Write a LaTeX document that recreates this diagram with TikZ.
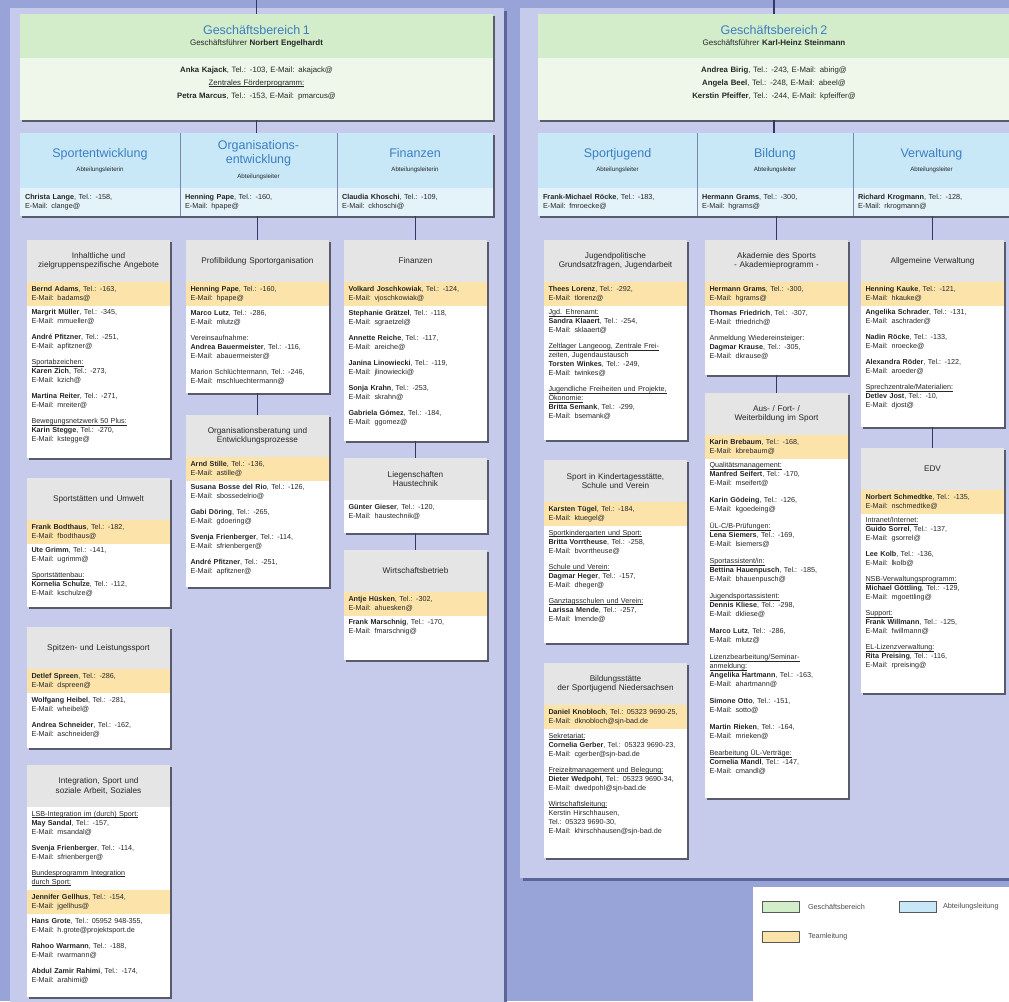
\documentclass[tikz,border=0pt]{standalone}
\usepackage{fontspec}
\setmainfont{Liberation Sans}
\usetikzlibrary{positioning,shadows}

\definecolor{bgout}{HTML}{98A4D8}
\definecolor{panelfill}{HTML}{C6CBEC}
\definecolor{paneledge}{HTML}{5C6696}
\definecolor{gbgreen}{HTML}{D3EDCB}
\definecolor{gblight}{HTML}{EEF7EA}
\definecolor{deptblue}{HTML}{C8E8F7}
\definecolor{deptlight}{HTML}{E4F3FA}
\definecolor{hdgray}{HTML}{E5E5E5}
\definecolor{tlyellow}{HTML}{FCE3AA}
\definecolor{titleblue}{HTML}{3C7EC2}
\definecolor{linenavy}{HTML}{313A66}
\definecolor{txtgray}{HTML}{262626}

\newsavebox{\untbox}
\newcommand{\nm}[1]{\textbf{#1}}
\newcommand{\unt}[1]{\leavevmode\sbox{\untbox}{#1}\rlap{\rule[-1.2pt]{\wd\untbox}{0.4pt}}\usebox{\untbox}}
\newcommand{\bodyfont}{\fontsize{7.2}{9}\selectfont}
\newcommand{\gbtitle}{\fontsize{12.5}{14}\selectfont\color{titleblue}}
\newcommand{\dtitle}{\fontsize{12.5}{14}\selectfont\color{titleblue}}

\begin{document}
\begin{tikzpicture}[
    x=1pt, y=-1pt,
    every node/.style={inner sep=0pt, outer sep=0pt, text=txtgray},
    panel/.style={fill=panelfill, anchor=north west,
        drop shadow={shadow xshift=3pt, shadow yshift=-3pt, fill=paneledge, opacity=1}},
    shade box/.style={drop shadow={shadow xshift=2pt, shadow yshift=-2pt, fill=black, opacity=.55}},
    gbframe/.style={fill=gblight, anchor=north west, shade box},
    gbhead/.style={fill=gbgreen, anchor=north, minimum height=44pt, align=center,
        inner xsep=5pt, font=\fontsize{8}{9}\selectfont},
    gbbody/.style={anchor=north, align=center, inner ysep=9pt, font=\fontsize{7.8}{13}\selectfont},
    rowframe/.style={fill=deptlight, anchor=north west, shade box},
    dhead/.style={fill=deptblue, text width=#1, inner xsep=5pt, minimum height=55pt,
        align=center, anchor=north, font=\fontsize{6.2}{14}\selectfont},
    dperson/.style={fill=deptlight, text width=#1, inner xsep=5pt, minimum height=28pt,
        align=left, font=\fontsize{7.3}{8.5}\selectfont},
    sepline/.style={draw=paneledge!80, line width=0.6pt},
    orgbox/.style={fill=white, anchor=north west, minimum width=143pt, shade box},
    hdr/.style={fill=hdgray, text width=134pt, inner xsep=4.5pt, minimum height=42pt,
        align=center, anchor=north, font=\fontsize{8.2}{9.5}\selectfont},
    lead/.style={fill=tlyellow, text width=134pt, inner xsep=4.5pt, inner ysep=4.2pt,
        align=left, anchor=north, font=\bodyfont},
    body/.style={text width=134pt, inner xsep=4.5pt, inner ysep=4pt,
        align=left, anchor=north, font=\bodyfont},
    conn/.style={draw=linenavy, line width=1.2pt},
    swatch/.style={anchor=north west, minimum width=37pt, minimum height=11pt,
        draw=gray!70!black, line width=0.6pt},
    leglabel/.style={font=\fontsize{7.3}{8}\selectfont, text=gray!60!black}]

    \useasboundingbox (0,0) rectangle (1009,1001);
    \fill[bgout] (0,0) rectangle (1009,1001);

    % PANELS
    \node[panel, minimum width=494pt, minimum height=1010pt] (pl) at (10,8) {};
    \node[panel, minimum width=500pt, minimum height=870pt] (pr) at (520,8) {};

    % GESCHAEFTSBEREICH 1
    \node[gbframe, minimum width=473pt, minimum height=106pt] (gb1) at (20,14) {};
    \node[gbhead, text width=463pt] (gb1h) at (gb1.north)
        {{\gbtitle Geschäftsbereich 1}\\[2pt]Geschäftsführer \nm{Norbert Engelhardt}};
    \node[gbbody, text width=463pt, below=0pt of gb1h] (gb1b)
        {\nm{Anka Kajack}, Tel.: -103, E-Mail: akajack@\\
         \unt{Zentrales Förderprogramm:}\\
         \nm{Petra Marcus}, Tel.: -153, E-Mail: pmarcus@};

    % GESCHAEFTSBEREICH 2
    \node[gbframe, minimum width=472pt, minimum height=106pt] (gb2) at (538,14) {};
    \node[gbhead, text width=462pt] (gb2h) at (gb2.north)
        {{\gbtitle Geschäftsbereich 2}\\[2pt]Geschäftsführer \nm{Karl-Heinz Steinmann}};
    \node[gbbody, text width=462pt, below=0pt of gb2h] (gb2b)
        {\nm{Andrea Birig}, Tel.: -243, E-Mail: abirig@\\
         \nm{Angela Beel}, Tel.: -248, E-Mail: abeel@\\
         \nm{Kerstin Pfeiffer}, Tel.: -244, E-Mail: kpfeiffer@};

    % ABTEILUNGEN links
    \node[rowframe, minimum width=473pt, minimum height=83pt] (rowl) at (20,133) {};
    \node[dhead=150pt, anchor=north west] (se) at (rowl.north west)
        {{\dtitle Sportentwicklung}\\[0pt]Abteilungsleiterin};
    \node[dhead=147pt, right=0pt of se] (oe)
        {{\dtitle Organisations-\\entwicklung}\\[1pt]Abteilungsleiter};
    \node[dhead=146pt, right=0pt of oe] (fi)
        {{\dtitle Finanzen}\\[0pt]Abteilungsleiterin};
    \node[dperson=150pt, below=0pt of se] (sep) {\nm{Christa Lange}, Tel.: -158,\\E-Mail: clange@};
    \node[dperson=147pt, below=0pt of oe] (oep) {\nm{Henning Pape}, Tel.: -160,\\E-Mail: hpape@};
    \node[dperson=146pt, below=0pt of fi] (fip) {\nm{Claudia Khoschi}, Tel.: -109,\\E-Mail: ckhoschi@};
    \draw[sepline] (se.north east) -- (sep.south east);
    \draw[sepline] (oe.north east) -- (oep.south east);

    % ABTEILUNGEN rechts
    \node[rowframe, minimum width=472pt, minimum height=83pt] (rowr) at (538,133) {};
    \node[dhead=149pt, anchor=north west] (sj) at (rowr.north west)
        {{\dtitle Sportjugend}\\[0pt]Abteilungsleiter};
    \node[dhead=146pt, right=0pt of sj] (bi)
        {{\dtitle Bildung}\\[0pt]Abteilungsleiter};
    \node[dhead=147pt, right=0pt of bi] (vw)
        {{\dtitle Verwaltung}\\[0pt]Abteilungsleiter};
    \node[dperson=149pt, below=0pt of sj] (sjp) {\nm{Frank-Michael Röcke}, Tel.: -183,\\E-Mail: fmroecke@};
    \node[dperson=146pt, below=0pt of bi] (bip) {\nm{Hermann Grams}, Tel.: -300,\\E-Mail: hgrams@};
    \node[dperson=147pt, below=0pt of vw] (vwp) {\nm{Richard Krogmann}, Tel.: -128,\\E-Mail: rkrogmann@};
    \draw[sepline] (sj.north east) -- (sjp.south east);
    \draw[sepline] (bi.north east) -- (bip.south east);

    % SPORTENTWICKLUNG
    \node[orgbox, minimum height=218pt] (a1) at (27,240) {};
    \node[hdr] (a1h) at (a1.north) {Inhaltliche und\\zielgruppenspezifische Angebote};
    \node[lead, below=0pt of a1h] (a1l) {\nm{Bernd Adams}, Tel.: -163,\\E-Mail: badams@};
    \node[body, below=0pt of a1l] (a1b)
        {\nm{Margrit Müller}, Tel.: -345,\\E-Mail: mmueller@\\[7pt]
         \nm{André Pfitzner}, Tel.: -251,\\E-Mail: apfitzner@\\[7pt]
         \unt{Sportabzeichen:}\\\nm{Karen Zich}, Tel.: -273,\\E-Mail: kzich@\\[7pt]
         \nm{Martina Reiter}, Tel.: -271,\\E-Mail: mreiter@\\[7pt]
         \unt{Bewegungsnetzwerk 50 Plus:}\\\nm{Karin Stegge}, Tel.: -270,\\E-Mail: kstegge@};

    \node[orgbox, minimum height=129pt] (a2) at (27,478) {};
    \node[hdr] (a2h) at (a2.north) {Sportstätten und Umwelt};
    \node[lead, below=0pt of a2h] (a2l) {\nm{Frank Bodthaus}, Tel.: -182,\\E-Mail: fbodthaus@};
    \node[body, below=0pt of a2l] (a2b)
        {\nm{Ute Grimm}, Tel.: -141,\\E-Mail: ugrimm@\\[7pt]
         \unt{Sportstättenbau:}\\\nm{Kornelia Schulze}, Tel.: -112,\\E-Mail: kschulze@};

    \node[orgbox, minimum height=121pt] (a3) at (27,627) {};
    \node[hdr] (a3h) at (a3.north) {Spitzen- und Leistungssport};
    \node[lead, below=0pt of a3h] (a3l) {\nm{Detlef Spreen}, Tel.: -286,\\E-Mail: dspreen@};
    \node[body, below=0pt of a3l] (a3b)
        {\nm{Wolfgang Heibel}, Tel.: -281,\\E-Mail: wheibel@\\[7pt]
         \nm{Andrea Schneider}, Tel.: -162,\\E-Mail: aschneider@};

    \node[orgbox, minimum height=232pt] (a4) at (27,765) {};
    \node[hdr] (a4h) at (a4.north) {Integration, Sport und\\soziale Arbeit, Soziales};
    \node[body, below=0pt of a4h] (a4b)
        {\unt{LSB-Integration im (durch) Sport:}\\\nm{May Sandal}, Tel.: -157,\\E-Mail: msandal@\\[7pt]
         \nm{Svenja Frienberger}, Tel.: -114,\\E-Mail: sfrienberger@\\[7pt]
         \unt{Bundesprogramm Integration}\\\unt{durch Sport:}};
    \node[lead, below=0pt of a4b] (a4l) {\nm{Jennifer Gellhus}, Tel.: -154,\\E-Mail: jgellhus@};
    \node[body, below=0pt of a4l] (a4c)
        {\nm{Hans Grote}, Tel.: 05952 948-355,\\E-Mail: h.grote@projektsport.de\\[7pt]
         \nm{Rahoo Warmann}, Tel.: -188,\\E-Mail: rwarmann@\\[7pt]
         \nm{Abdul Zamir Rahimi}, Tel.: -174,\\E-Mail: arahimi@};

    % ORGANISATIONSENTWICKLUNG
    \node[orgbox, minimum height=153pt] (b1) at (186,240) {};
    \node[hdr] (b1h) at (b1.north) {Profilbildung Sportorganisation};
    \node[lead, below=0pt of b1h] (b1l) {\nm{Henning Pape}, Tel.: -160,\\E-Mail: hpape@};
    \node[body, below=0pt of b1l] (b1b)
        {\nm{Marco Lutz}, Tel.: -286,\\E-Mail: mlutz@\\[7pt]
         Vereinsaufnahme:\\\nm{Andrea Bauermeister}, Tel.: -116,\\E-Mail: abauermeister@\\[7pt]
         Marion Schlüchtermann, Tel.: -246,\\E-Mail: mschluechtermann@};

    \node[orgbox, minimum height=172pt] (b2) at (186,415) {};
    \node[hdr] (b2h) at (b2.north) {Organisationsberatung und\\Entwicklungsprozesse};
    \node[lead, below=0pt of b2h] (b2l) {\nm{Arnd Stille}, Tel.: -136,\\E-Mail: astille@};
    \node[body, below=0pt of b2l] (b2b)
        {\nm{Susana Bosse del Rio}, Tel.: -126,\\E-Mail: sbossedelrio@\\[7pt]
         \nm{Gabi Döring}, Tel.: -265,\\E-Mail: gdoering@\\[7pt]
         \nm{Svenja Frienberger}, Tel.: -114,\\E-Mail: sfrienberger@\\[7pt]
         \nm{André Pfitzner}, Tel.: -251,\\E-Mail: apfitzner@};

    % FINANZEN
    \node[orgbox, minimum height=201pt] (c1) at (344,240) {};
    \node[hdr] (c1h) at (c1.north) {Finanzen};
    \node[lead, below=0pt of c1h] (c1l) {\nm{Volkard Joschkowiak}, Tel.: -124,\\E-Mail: vjoschkowiak@};
    \node[body, below=0pt of c1l] (c1b)
        {\nm{Stephanie Grätzel}, Tel.: -118,\\E-Mail: sgraetzel@\\[7pt]
         \nm{Annette Reiche}, Tel.: -117,\\E-Mail: areiche@\\[7pt]
         \nm{Janina Linowiecki}, Tel.: -119,\\E-Mail: jlinowiecki@\\[7pt]
         \nm{Sonja Krahn}, Tel.: -253,\\E-Mail: skrahn@\\[7pt]
         \nm{Gabriela Gómez}, Tel.: -184,\\E-Mail: ggomez@};

    \node[orgbox, minimum height=75pt] (c2) at (344,458) {};
    \node[hdr] (c2h) at (c2.north) {Liegenschaften\\Haustechnik};
    \node[body, below=0pt of c2h] (c2b) {\nm{Günter Gieser}, Tel.: -120,\\E-Mail: haustechnik@};

    \node[orgbox, minimum height=110pt] (c3) at (344,550) {};
    \node[hdr] (c3h) at (c3.north) {Wirtschaftsbetrieb};
    \node[lead, below=0pt of c3h] (c3l) {\nm{Antje Hüsken}, Tel.: -302,\\E-Mail: ahuesken@};
    \node[body, below=0pt of c3l] (c3b) {\nm{Frank Marschnig}, Tel.: -170,\\E-Mail: fmarschnig@};

    % SPORTJUGEND
    \node[orgbox, minimum height=200pt] (d1) at (544,240) {};
    \node[hdr] (d1h) at (d1.north) {Jugendpolitische\\Grundsatzfragen, Jugendarbeit};
    \node[lead, below=0pt of d1h] (d1l) {\nm{Thees Lorenz}, Tel.: -292,\\E-Mail: tlorenz@};
    \node[body, below=0pt of d1l] (d1b)
        {\unt{Jgd. Ehrenamt:}\\\nm{Sandra Klaaert}, Tel.: -254,\\E-Mail: sklaaert@\\[7pt]
         \unt{Zeltlager Langeoog, Zentrale Frei-}\\zeiten, Jugendaustausch\\\nm{Torsten Winkes}, Tel.: -249,\\E-Mail: twinkes@\\[7pt]
         \unt{Jugendliche Freiheiten und Projekte,}\\\unt{Ökonomie:}\\\nm{Britta Semank}, Tel.: -299,\\E-Mail: bsemank@};

    \node[orgbox, minimum height=183pt] (d2) at (544,460) {};
    \node[hdr] (d2h) at (d2.north) {Sport in Kindertagesstätte,\\Schule und Verein};
    \node[lead, below=0pt of d2h] (d2l) {\nm{Karsten Tügel}, Tel.: -184,\\E-Mail: ktuegel@};
    \node[body, below=0pt of d2l] (d2b)
        {\unt{Sportkindergarten und Sport:}\\\nm{Britta Vorrtheuse}, Tel.: -258,\\E-Mail: bvorrtheuse@\\[7pt]
         \unt{Schule und Verein:}\\\nm{Dagmar Heger}, Tel.: -157,\\E-Mail: dheger@\\[7pt]
         \unt{Ganztagsschulen und Verein:}\\\nm{Larissa Mende}, Tel.: -257,\\E-Mail: lmende@};

    \node[orgbox, minimum height=195pt] (d3) at (544,663) {};
    \node[hdr] (d3h) at (d3.north) {Bildungsstätte\\der Sportjugend Niedersachsen};
    \node[lead, below=0pt of d3h] (d3l) {\nm{Daniel Knobloch}, Tel.: 05323 9690-25,\\E-Mail: dknobloch@sjn-bad.de};
    \node[body, below=0pt of d3l] (d3b)
        {\unt{Sekretariat:}\\\nm{Cornelia Gerber}, Tel.: 05323 9690-23,\\E-Mail: cgerber@sjn-bad.de\\[7pt]
         \unt{Freizeitmanagement und Belegung:}\\\nm{Dieter Wedpohl}, Tel.: 05323 9690-34,\\E-Mail: dwedpohl@sjn-bad.de\\[7pt]
         \unt{Wirtschaftsleitung:}\\Kerstin Hirschhausen,\\Tel.: 05323 9690-30,\\E-Mail: khirschhausen@sjn-bad.de};

    % BILDUNG
    \node[orgbox, minimum height=135pt] (e1) at (705,240) {};
    \node[hdr] (e1h) at (e1.north) {Akademie des Sports\\- Akademieprogramm -};
    \node[lead, below=0pt of e1h] (e1l) {\nm{Hermann Grams}, Tel.: -300,\\E-Mail: hgrams@};
    \node[body, below=0pt of e1l] (e1b)
        {\nm{Thomas Friedrich}, Tel.: -307,\\E-Mail: tfriedrich@\\[7pt]
         Anmeldung Wiedereinsteiger:\\\nm{Dagmar Krause}, Tel.: -305,\\E-Mail: dkrause@};

    \node[orgbox, minimum height=405pt] (e2) at (705,393) {};
    \node[hdr] (e2h) at (e2.north) {Aus- / Fort- /\\Weiterbildung im Sport};
    \node[lead, below=0pt of e2h] (e2l) {\nm{Karin Brebaum}, Tel.: -168,\\E-Mail: kbrebaum@};
    \node[body, below=0pt of e2l] (e2b)
        {\unt{Qualitätsmanagement:}\\\nm{Manfred Seifert}, Tel.: -170,\\E-Mail: mseifert@\\[8pt]
         \nm{Karin Gödeing}, Tel.: -126,\\E-Mail: kgoedeing@\\[8pt]
         \unt{ÜL-C/B-Prüfungen:}\\\nm{Lena Siemers}, Tel.: -169,\\E-Mail: lsiemers@\\[8pt]
         \unt{Sportassistent/in:}\\\nm{Bettina Hauenpusch}, Tel.: -185,\\E-Mail: bhauenpusch@\\[8pt]
         \unt{Jugendsportassistent:}\\\nm{Dennis Kliese}, Tel.: -298,\\E-Mail: dkliese@\\[8pt]
         \nm{Marco Lutz}, Tel.: -286,\\E-Mail: mlutz@\\[8pt]
         \unt{Lizenzbearbeitung/Seminar-}\\\unt{anmeldung:}\\\nm{Angelika Hartmann}, Tel.: -163,\\E-Mail: ahartmann@\\[8pt]
         \nm{Simone Otto}, Tel.: -151,\\E-Mail: sotto@\\[8pt]
         \nm{Martin Rieken}, Tel.: -164,\\E-Mail: mrieken@\\[8pt]
         \unt{Bearbeitung ÜL-Verträge:}\\\nm{Cornelia Mandl}, Tel.: -147,\\E-Mail: cmandl@};

    % VERWALTUNG
    \node[orgbox, minimum height=187pt] (f1) at (861,240) {};
    \node[hdr] (f1h) at (f1.north) {Allgemeine Verwaltung};
    \node[lead, below=0pt of f1h] (f1l) {\nm{Henning Kauke}, Tel.: -121,\\E-Mail: hkauke@};
    \node[body, below=0pt of f1l] (f1b)
        {\nm{Angelika Schrader}, Tel.: -131,\\E-Mail: aschrader@\\[7pt]
         \nm{Nadin Röcke}, Tel.: -133,\\E-Mail: nroecke@\\[7pt]
         \nm{Alexandra Röder}, Tel.: -122,\\E-Mail: aroeder@\\[7pt]
         \unt{Sprechzentrale/Materialien:}\\\nm{Detlev Jost}, Tel.: -10,\\E-Mail: djost@};

    \node[orgbox, minimum height=245pt] (f2) at (861,448) {};
    \node[hdr] (f2h) at (f2.north) {EDV};
    \node[lead, below=0pt of f2h] (f2l) {\nm{Norbert Schmedtke}, Tel.: -135,\\E-Mail: nschmedtke@};
    \node[body, below=0pt of f2l] (f2b)
        {\unt{Intranet/Internet:}\\\nm{Guido Sorrel}, Tel.: -137,\\E-Mail: gsorrel@\\[7pt]
         \nm{Lee Kolb}, Tel.: -136,\\E-Mail: lkolb@\\[7pt]
         \unt{NSB-Verwaltungsprogramm:}\\\nm{Michael Göttling}, Tel.: -129,\\E-Mail: mgoettling@\\[7pt]
         \unt{Support:}\\\nm{Frank Willmann}, Tel.: -125,\\E-Mail: fwillmann@\\[7pt]
         \unt{EL-Lizenzverwaltung:}\\\nm{Rita Preising}, Tel.: -116,\\E-Mail: rpreising@};

    % LEGENDE
    \node[orgbox, minimum width=300pt, minimum height=130pt] (leg) at (753,887) {};
    \node[swatch, fill=gbgreen] (sw1) at (762,901) {};
    \node[leglabel, right=9pt of sw1] (lb1) {Geschäftsbereich};
    \node[swatch, fill=deptblue] (sw2) at (899,901) {};
    \node[leglabel, right=7pt of sw2] (lb2) {Abteilungsleitung};
    \node[swatch, fill=tlyellow] (sw3) at (762,931) {};
    \node[leglabel, right=9pt of sw3] (lb3) {Teamleitung};

    % LINES
    \coordinate (t1) at (256.5,0);
    \coordinate (t2) at (774,0);
    \draw[conn] (t1) -- (gb1.north);
    \draw[conn] (t2) -- (gb2.north);
    \draw[conn] (gb1.south) -- (rowl.north);
    \draw[conn] (gb2.south) -- (rowr.north);
    \draw[conn] (b1.north) -- (b1.north |- oep.south);
    \draw[conn] (c1.north) -- (c1.north |- fip.south);
    \draw[conn] (e1.north) -- (e1.north |- bip.south);
    \draw[conn] (f1.north) -- (f1.north |- vwp.south);
    \draw[conn] (b1) -- (b2);
    \draw[conn] (c1) -- (c2);
    \draw[conn] (c2) -- (c3);
    \draw[conn] (e1) -- (e2);
    \draw[conn] (f1) -- (f2);
\end{tikzpicture}
\end{document}
